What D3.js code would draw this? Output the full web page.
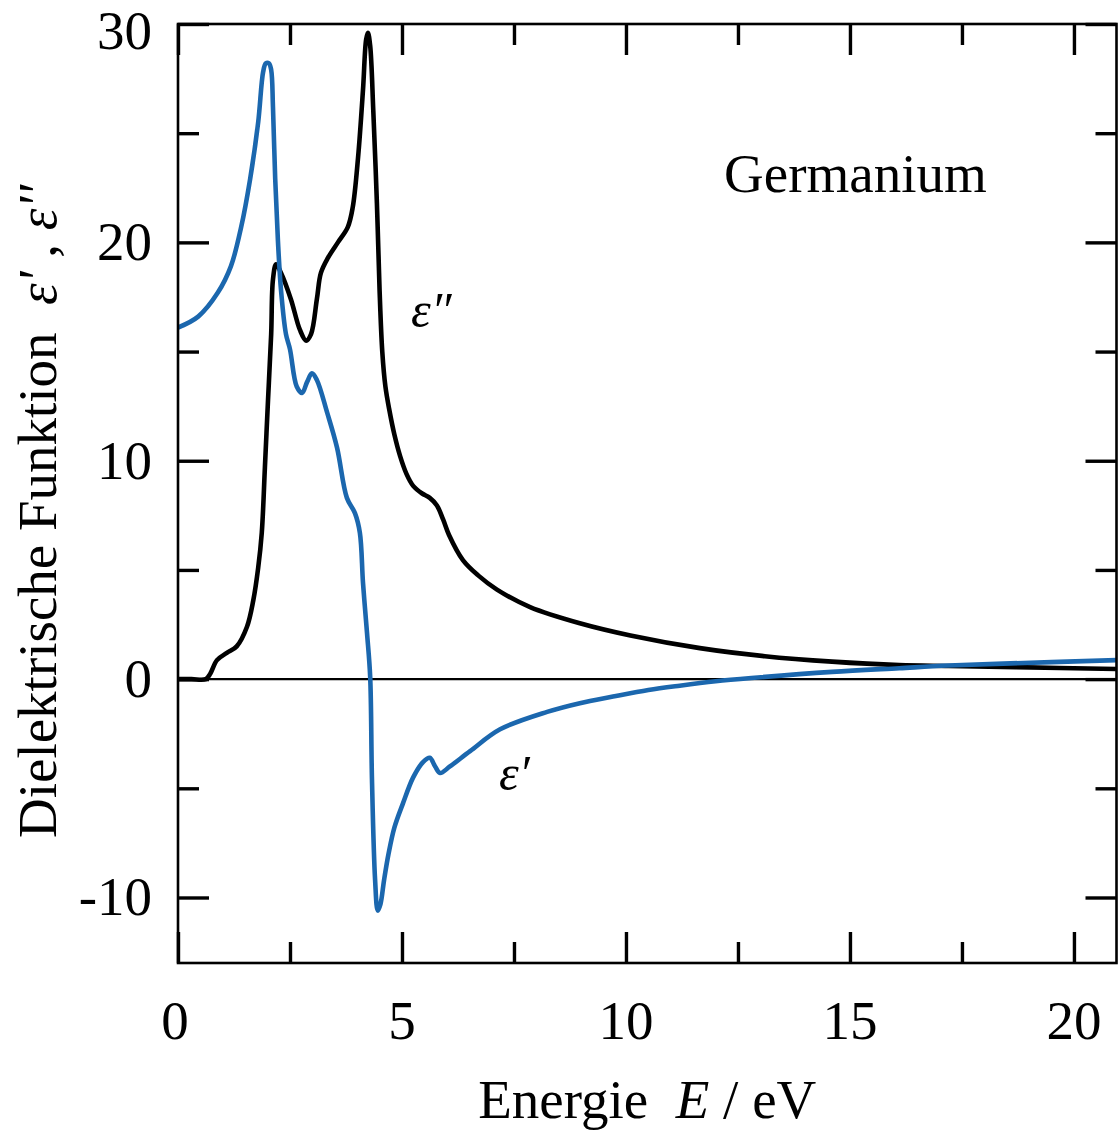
<!DOCTYPE html>
<html>
<head>
<meta charset="utf-8">
<script src="https://cdn.jsdelivr.net/npm/d3@7"></script>
<style>
  html, body { margin: 0; padding: 0; background: #fff; }
  text { font-family: "Liberation Serif", "Times New Roman", serif; fill: #000; }
</style>
</head>
<body>
<svg id="chart" width="1118" height="1134"></svg>
<script>
// ---- data ----
const energyEps2 = [0, 0.3, 0.62, 0.72, 0.87, 1.09, 1.31, 1.54, 1.68, 1.79, 1.87, 1.94, 2.01, 2.08, 2.12, 2.19, 2.3, 2.52, 2.72, 2.86, 2.97, 3.1, 3.19, 3.35, 3.57, 3.79, 3.9, 4.02, 4.13, 4.2, 4.24, 4.29, 4.36, 4.44, 4.5, 4.56, 4.63, 4.72, 4.83, 4.96, 5.1, 5.25, 5.45, 5.62, 5.78, 5.92, 6.05, 6.36, 6.7, 7.12, 7.86, 8.97, 10.1, 11.65, 13.1, 14.6, 16.1, 17.2, 18.7, 20.95];
const eps2 = [0, 0, 0, 0.25, 0.87, 1.2, 1.5, 2.4, 3.6, 5.1, 6.7, 9.7, 12.8, 15.8, 18.3, 19.0, 18.6, 17.4, 16.0, 15.5, 15.8, 17.4, 18.6, 19.3, 20.0, 20.7, 21.6, 23.9, 27.0, 29.3, 29.6, 29.0, 26.0, 21.8, 17.8, 15.0, 13.4, 12.3, 11.2, 10.2, 9.4, 8.85, 8.5, 8.3, 7.95, 7.3, 6.6, 5.45, 4.75, 4.1, 3.3, 2.56, 2.0, 1.42, 1.05, 0.8, 0.64, 0.6, 0.55, 0.46];

const energyEps1 = [0, 0.45, 0.89, 1.18, 1.41, 1.61, 1.79, 1.9, 1.96, 2.03, 2.08, 2.12, 2.17, 2.23, 2.3, 2.41, 2.5, 2.65, 2.77, 2.88, 2.99, 3.1, 3.33, 3.55, 3.77, 3.95, 4.06, 4.13, 4.22, 4.29, 4.33, 4.4, 4.46, 4.52, 4.6, 4.7, 4.83, 5.02, 5.25, 5.47, 5.62, 5.74, 5.85, 6.07, 6.52, 7.19, 8.24, 8.97, 9.71, 10.5, 11.2, 12.0, 12.8, 14.6, 16.1, 17.2, 19.5, 20.95];
const eps1 = [16.1, 16.6, 17.7, 18.9, 20.7, 22.9, 25.5, 27.8, 28.2, 28.2, 27.9, 26.2, 22.9, 20.1, 17.8, 15.8, 15.1, 13.4, 13.1, 13.6, 14.0, 13.7, 12.2, 10.6, 8.3, 7.6, 6.7, 4.4, 2.1, 0.1, -4.6, -9.2, -10.6, -10.3, -9.2, -8.0, -6.8, -5.7, -4.5, -3.8, -3.6, -4.0, -4.3, -4.0, -3.3, -2.3, -1.5, -1.1, -0.8, -0.5, -0.3, -0.1, 0.05, 0.33, 0.5, 0.62, 0.78, 0.87];

const xTicks = [0, 2.5, 5, 7.5, 10, 12.5, 15, 17.5, 20];
const xTickLabels = ["0", "5", "10", "15", "20"];
const yTicks = [-10, -5, 0, 5, 10, 15, 20, 25, 30];
const yTickLabels = ["-10", "0", "10", "20", "30"];

// ---- layout ----
const svg = d3.select("#chart");
const L = 178, R = 1116.5, T = 24, B = 963;
const x = d3.scaleLinear().domain([0, 20.95]).range([L, R]);
const y = d3.scaleLinear().domain([-13, 30]).range([B, T]);
const blue = "#1b67ae";
const FS = 55;

svg.append("clipPath").attr("id", "clip")
  .append("rect").attr("x", L).attr("y", T).attr("width", R - L).attr("height", B - T);

// zero line
svg.append("line").attr("x1", L).attr("x2", R).attr("y1", y(0)).attr("y2", y(0))
  .attr("stroke", "#000").attr("stroke-width", 2.3);

// curves
const line = d3.line().x(d => x(d[0])).y(d => y(d[1])).curve(d3.curveCatmullRom.alpha(0.5));
const g = svg.append("g").attr("clip-path", "url(#clip)");
g.append("path").datum(energyEps2.map((e, i) => [e, eps2[i]]))
  .attr("d", line).attr("fill", "none").attr("stroke", "#000")
  .attr("stroke-width", 4.6).attr("stroke-linejoin", "round");
g.append("path").datum(energyEps1.map((e, i) => [e, eps1[i]]))
  .attr("d", line).attr("fill", "none").attr("stroke", blue)
  .attr("stroke-width", 4.6).attr("stroke-linejoin", "round");

// axes (ticks inward, all four sides)
const isMajorX = v => Math.abs(v % 5) < 1e-9;
const isMajorY = v => Math.abs(v % 10) < 1e-9;
const xAxisB = d3.axisBottom(x).tickValues(xTicks).tickFormat("").tickSizeOuter(0);
const xAxisT = d3.axisTop(x).tickValues(xTicks).tickFormat("").tickSizeOuter(0);
const yAxisL = d3.axisLeft(y).tickValues(yTicks).tickFormat("").tickSizeOuter(0);
const yAxisR = d3.axisRight(y).tickValues(yTicks).tickFormat("").tickSizeOuter(0);

function styleAxis(sel, major, dir) {
  sel.selectAll(".domain").remove();
  sel.selectAll(".tick line")
    .attr("stroke", "#000").attr("stroke-width", 3.4)
    .each(function(d) {
      const len = major(d) ? 31 : 21;
      const el = d3.select(this);
      if (dir === "b") el.attr("y2", -len);
      if (dir === "t") el.attr("y2", len);
      if (dir === "l") el.attr("x2", len);
      if (dir === "r") el.attr("x2", -len);
    });
}
svg.append("g").attr("transform", `translate(0,${B})`).call(xAxisB).call(s => styleAxis(s, isMajorX, "b"));
svg.append("g").attr("transform", `translate(0,${T})`).call(xAxisT).call(s => styleAxis(s, isMajorX, "t"));
svg.append("g").attr("transform", `translate(${L},0)`).call(yAxisL).call(s => styleAxis(s, isMajorY, "l"));
svg.append("g").attr("transform", `translate(${R},0)`).call(yAxisR).call(s => styleAxis(s, isMajorY, "r"));

// frame
svg.append("rect").attr("x", L).attr("y", T).attr("width", R - L).attr("height", B - T)
  .attr("fill", "none").attr("stroke", "#000").attr("stroke-width", 2.6);

// tick labels
svg.append("g").selectAll("text").data(xTickLabels).join("text")
  .attr("x", d => x(+d) - (d === "0" ? 3 : 0)).attr("y", 1039)
  .attr("text-anchor", "middle").attr("font-size", FS).text(d => d);
svg.append("g").selectAll("text").data(yTickLabels).join("text")
  .attr("x", 152).attr("y", d => Math.max(y(+d) + 18, 49))
  .attr("text-anchor", "end").attr("font-size", FS).text(d => d);

// axis titles
const xt = svg.append("text").attr("x", (L + R) / 2).attr("y", 1118)
  .attr("text-anchor", "middle").attr("font-size", FS);
xt.append("tspan").text("Energie\u00A0\u00A0");
xt.append("tspan").attr("font-style", "italic").text("E");
xt.append("tspan").text(" / eV");

const yt = svg.append("text").attr("transform", "translate(56,838) rotate(-90)")
  .attr("text-anchor", "start").attr("font-size", FS);
yt.append("tspan").text("Dielektrische Funktion\u00A0\u00A0");
yt.append("tspan").attr("font-style", "italic").text("ε'");
yt.append("tspan").text(" , ");
yt.append("tspan").attr("font-style", "italic").text("ε''");

// annotations
svg.append("text").attr("x", 724).attr("y", 192).attr("font-size", FS).text("Germanium");
svg.append("text").attr("x", 411).attr("y", 327).attr("font-size", 50)
  .attr("font-style", "italic").text("ε″");
svg.append("text").attr("x", 499).attr("y", 790).attr("font-size", 50)
  .attr("font-style", "italic").text("ε′");
</script>
</body>
</html>
